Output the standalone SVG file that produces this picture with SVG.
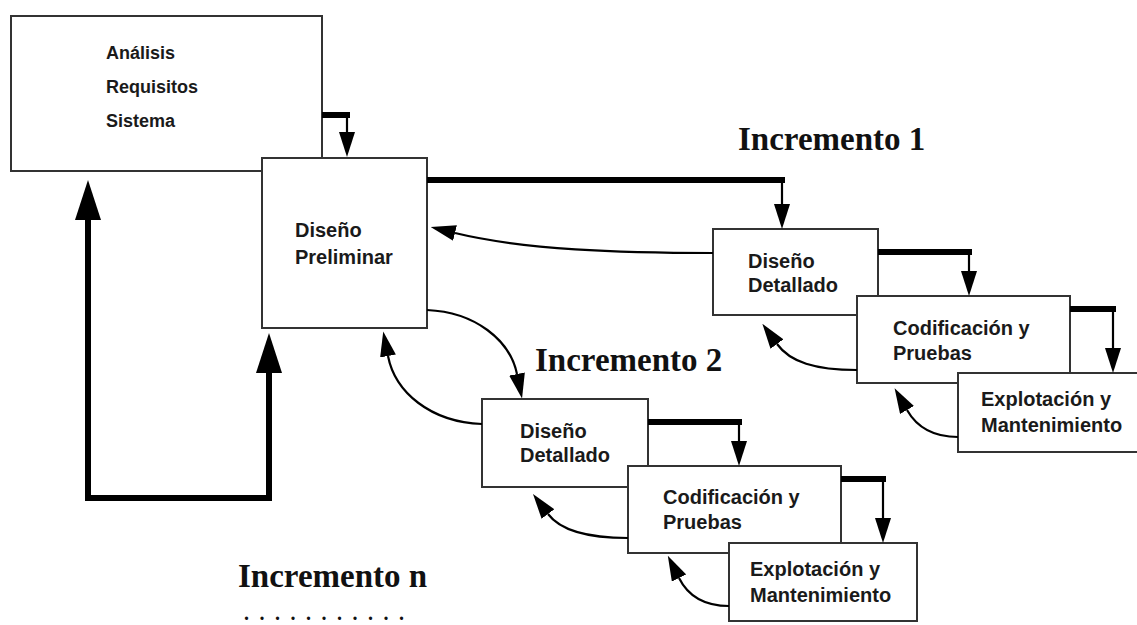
<svg xmlns="http://www.w3.org/2000/svg" width="1137" height="625" viewBox="0 0 1137 625">
<style>
.box{fill:#fff;stroke:#333;stroke-width:2}
.lbl{font-family:"Liberation Sans",Arial,Helvetica,sans-serif;font-weight:bold;font-size:20px;fill:#1a1a1a}
.lblA{font-family:"Liberation Sans",Arial,Helvetica,sans-serif;font-weight:bold;font-size:18px;fill:#1a1a1a}
.inc{font-family:"Liberation Serif","Times New Roman",serif;font-weight:bold;font-size:33px;fill:#111}
.dots{font-family:"Liberation Serif","Times New Roman",serif;font-weight:bold;font-size:20px;fill:#111}
.thick{fill:none;stroke:#000;stroke-width:6}
.thin{fill:none;stroke:#000;stroke-width:2.2;marker-end:url(#ah)}
.loop{fill:none;stroke:#000;stroke-width:6;marker-start:url(#ahb);marker-end:url(#ahb)}
</style>
<defs>
<marker id="ah" markerUnits="userSpaceOnUse" markerWidth="25" markerHeight="16" refX="0" refY="8" orient="auto"><path d="M0,0 L25,8 L0,16 z" fill="#000"/></marker>
<marker id="ahb" markerUnits="userSpaceOnUse" markerWidth="40" markerHeight="26" refX="0" refY="13" orient="auto-start-reverse"><path d="M0,0 L40,13 L0,26 z" fill="#000"/></marker>
</defs>
<rect width="1137" height="625" fill="#fff"/>

<g id="analisis">
<rect class="box" x="11" y="16" width="311" height="155"/>
<text class="lblA" x="106" y="59">Análisis</text>
<text class="lblA" x="106" y="93">Requisitos</text>
<text class="lblA" x="106" y="127">Sistema</text>
</g>
<g id="diseno-preliminar">
<rect class="box" x="262" y="158" width="165" height="170"/>
<text class="lbl" x="295" y="237">Diseño</text>
<text class="lbl" x="295" y="264">Preliminar</text>
</g>

<g id="dd1">
<rect class="box" x="713" y="229" width="165" height="86"/>
<text class="lbl" x="748" y="268">Diseño</text>
<text class="lbl" x="748" y="292">Detallado</text>
</g>
<g id="cp1">
<rect class="box" x="857" y="296" width="213" height="87"/>
<text class="lbl" x="893" y="335">Codificación y</text>
<text class="lbl" x="893" y="360">Pruebas</text>
</g>
<g id="em1">
<rect class="box" x="958" y="373" width="185" height="79"/>
<text class="lbl" x="981" y="406">Explotación y</text>
<text class="lbl" x="981" y="432">Mantenimiento</text>
</g>

<g id="dd2">
<rect class="box" x="482" y="399" width="166" height="88"/>
<text class="lbl" x="520" y="438">Diseño</text>
<text class="lbl" x="520" y="462">Detallado</text>
</g>
<g id="cp2">
<rect class="box" x="628" y="466" width="213" height="87"/>
<text class="lbl" x="663" y="504">Codificación y</text>
<text class="lbl" x="663" y="529">Pruebas</text>
</g>
<g id="em2">
<rect class="box" x="729" y="543" width="188" height="78"/>
<text class="lbl" x="750" y="576">Explotación y</text>
<text class="lbl" x="750" y="602">Mantenimiento</text>
</g>

<g id="labels">
<text class="inc" x="738" y="150">Incremento 1</text>
<text class="inc" x="535" y="371">Incremento 2</text>
<text class="inc" x="238" y="587">Incremento n</text>
<text class="dots" x="244 259.5 275 290.5 306 321.5 337 352.5 368 383.5 399" y="620">...........</text>
</g>

<g id="connectors">
<!-- A -> B -->
<path class="thick" d="M322,115 H350"/>
<path class="thin" d="M347,113 V132"/>
<!-- big loop -->
<path class="loop" d="M88,220 V498 H269 V373"/>
<!-- Increment 1 -->
<path class="thick" d="M427,180 H785"/>
<path class="thin" d="M782,178 V204"/>
<path class="thick" d="M878,252 H972"/>
<path class="thin" d="M969,250 V271"/>
<path class="thick" d="M1070,309 H1116"/>
<path class="thin" d="M1113,307 V348"/>
<path class="thin" d="M713,253 C620,253 525,250 455,233"/>
<path class="thin" d="M857,370 C815,370 790,362 777,344"/>
<path class="thin" d="M958,437 C930,437 915,424 907,410"/>
<!-- Increment 2 -->
<path class="thin" d="M427,310 C475,312 510,340 517,374"/>
<path class="thin" d="M482,424 C430,422 395,392 388,356"/>
<path class="thick" d="M648,422 H742"/>
<path class="thin" d="M739,420 V441"/>
<path class="thick" d="M841,479 H886"/>
<path class="thin" d="M883,477 V518"/>
<path class="thin" d="M628,538 C585,538 560,530 548,514"/>
<path class="thin" d="M729,606 C700,606 686,592 679,578"/>
</g>
</svg>
